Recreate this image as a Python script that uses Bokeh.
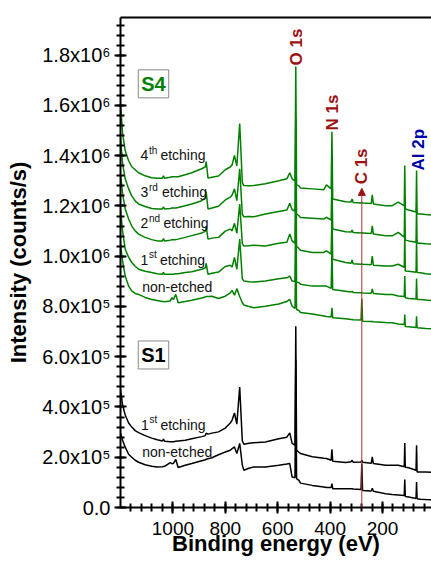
from bokeh.plotting import figure
from bokeh.models import Range1d, FixedTicker, Label, Arrow, NormalHead, LinearAxis
from bokeh.embed import file_html
from bokeh.resources import INLINE

# ---------------- data (binding energy in eV, intensity in 1e5 counts/s) ----------------
energy_eV = [1200, 1192, 1182, 1169, 1157, 1144, 1131, 1106, 1081, 1060, 1040, 1036, 1032, 1010, 1004,
             998, 989, 980, 953, 928, 890, 876, 873, 866, 851, 826, 800, 781, 774, 765, 756, 745, 735,
             729, 710, 692, 647, 596, 565, 554, 545, 534, 531, 528, 519, 513, 468, 424, 414, 396, 393,
             390, 341, 320, 316, 312, 282, 279, 276, 243, 239, 235, 188, 163, 140, 117, 115, 113, 100,
             72, 70, 68, 55, 35, 13]

s4_etch4 = [16.08, 14.88, 14.20, 13.80, 13.56, 13.44, 13.32, 13.20, 13.12, 13.10, 13.10, 13.20, 13.10,
            13.14, 13.16, 13.16, 13.16, 13.16, 13.24, 13.32, 13.48, 13.56, 13.77, 13.11, 13.14, 13.19,
            13.44, 13.55, 13.64, 14.01, 13.59, 15.28, 12.92, 12.81, 12.80, 12.81, 12.88, 13.00, 13.08,
            13.32, 13.08, 13.00, 17.55, 12.84, 12.80, 12.71, 12.68, 12.65, 12.84, 12.68, 14.95, 12.28,
            12.17, 12.16, 12.28, 12.14, 12.12, 12.14, 12.12, 12.10, 12.44, 12.08, 12.01, 12.01, 12.15,
            12.00, 13.61, 11.88, 11.84, 11.76, 13.41, 11.68, 11.68, 11.66, 11.64]
s4_etch3 = [14.68, 13.68, 13.08, 12.68, 12.40, 12.20, 12.08, 11.98, 11.90, 11.88, 11.88, 11.96, 11.88,
            11.90, 11.92, 11.92, 11.92, 11.94, 12.01, 12.08, 12.21, 12.32, 12.57, 11.88, 11.92, 11.99,
            12.24, 12.35, 12.44, 12.68, 12.21, 13.48, 11.66, 11.57, 11.58, 11.57, 11.68, 11.78, 11.84,
            12.11, 11.85, 11.80, 15.48, 11.68, 11.61, 11.54, 11.51, 11.48, 11.55, 11.44, 13.08, 11.08,
            10.97, 10.96, 11.04, 10.94, 10.92, 10.94, 10.92, 10.90, 11.21, 10.88, 10.81, 10.81, 10.95,
            10.76, 12.28, 10.64, 10.61, 10.56, 11.96, 10.52, 10.52, 10.50, 10.48]
s4_etch2 = [13.28, 12.48, 11.88, 11.48, 11.20, 11.01, 10.88, 10.75, 10.66, 10.61, 10.61, 10.70, 10.61,
            10.64, 10.66, 10.66, 10.66, 10.68, 10.75, 10.82, 10.92, 11.00, 11.19, 10.68, 10.72, 10.75,
            11.00, 11.08, 11.01, 11.31, 10.91, 12.08, 10.50, 10.41, 10.42, 10.44, 10.41, 10.52, 10.56,
            10.88, 10.61, 10.52, 13.88, 10.40, 10.31, 10.24, 10.15, 10.15, 10.21, 10.08, 11.68, 9.88,
            9.75, 9.72, 9.85, 9.70, 9.68, 9.70, 9.68, 9.66, 10.01, 9.64, 9.61, 9.61, 9.68,
            9.56, 10.88, 9.41, 9.40, 9.36, 10.68, 9.35, 9.34, 9.30, 9.28]
s4_etch1 = [11.88, 11.00, 10.28, 9.96, 9.75, 9.60, 9.48, 9.40, 9.35, 9.30, 9.28, 9.36, 9.28,
            9.28, 9.28, 9.28, 9.30, 9.30, 9.35, 9.38, 9.48, 9.54, 9.72, 9.28, 9.32, 9.37,
            9.59, 9.64, 9.57, 9.95, 9.48, 10.68, 9.10, 9.01, 8.98, 8.97, 9.01, 9.10, 9.14,
            9.21, 9.01, 9.00, 12.28, 8.96, 8.95, 8.88, 8.81, 8.81, 8.81, 8.72, 10.28, 8.68,
            8.61, 8.58, 8.60, 8.56, 8.55, 8.55, 8.54, 8.53, 8.70, 8.52, 8.48, 8.48, 8.42,
            8.40, 9.21, 8.35, 8.32, 8.30, 9.11, 8.28, 8.28, 8.26, 8.24]
s4_nonetched = [10.48, 9.80, 9.21, 8.81, 8.62, 8.52, 8.48, 8.36, 8.28, 8.24, 8.20, 8.20, 8.19,
                8.22, 8.35, 8.28, 8.48, 8.15, 8.20, 8.25, 8.34, 8.38, 8.40, 8.40, 8.41, 8.32,
                8.41, 8.54, 8.64, 8.45, 8.71, 8.40, 8.15, 8.06, 8.00, 7.95, 8.01, 8.10, 8.20,
                8.28, 8.01, 7.92, 10.28, 7.88, 7.84, 7.76, 7.70, 7.62, 7.60, 7.58, 7.95, 7.55,
                7.51, 7.48, 7.48, 7.47, 7.46, 8.31, 7.41, 7.40, 7.40, 7.39, 7.36, 7.35, 7.30,
                7.28, 7.68, 7.20, 7.19, 7.16, 7.61, 7.15, 7.14, 7.12, 7.11]
s1_etch1 = [4.68, 4.08, 3.68, 3.36, 3.20, 3.06, 2.98, 2.86, 2.76, 2.70, 2.65, 2.72, 2.64,
            2.62, 2.62, 2.62, 2.64, 2.65, 2.68, 2.74, 2.82, 2.86, 2.96, 2.92, 2.96, 3.01,
            3.16, 3.36, 3.48, 3.76, 3.32, 4.79, 2.64, 2.52, 2.56, 2.58, 2.61, 2.74, 2.80,
            2.97, 2.55, 2.48, 7.21, 2.28, 2.20, 2.15, 2.02, 1.96, 1.95, 1.88, 2.32, 1.84,
            1.79, 1.82, 1.88, 1.80, 1.81, 1.88, 1.80, 1.76, 2.01, 1.75, 1.68, 1.68, 1.68,
            1.62, 2.57, 1.60, 1.58, 1.48, 2.48, 1.41, 1.41, 1.41, 1.40]
s1_nonetched = [2.96, 2.68, 2.40, 2.12, 2.00, 1.88, 1.80, 1.70, 1.64, 1.61, 1.62, 1.63, 1.64,
                1.79, 1.74, 1.76, 1.91, 1.59, 1.68, 1.75, 1.86, 1.90, 1.92, 1.94, 1.98, 2.10,
                2.21, 2.28, 2.34, 2.41, 2.15, 2.55, 1.68, 1.48, 1.56, 1.61, 1.61, 1.68, 1.73,
                1.75, 1.21, 1.18, 5.88, 1.15, 1.08, 0.97, 0.88, 0.82, 0.80, 0.80, 0.95, 0.75,
                0.75, 0.75, 0.75, 0.74, 0.72, 1.75, 0.68, 0.66, 0.77, 0.65, 0.55, 0.52, 0.50,
                0.48, 1.11, 0.44, 0.42, 0.36, 1.01, 0.35, 0.33, 0.32, 0.31]

UNIT = 1e5
GREEN = "#008000"
BLACK = "#000000"

x_ticks = [1000, 800, 600, 400, 200]
x_minor = [e for e in range(40, 1200, 40)]
y_ticks = [0, 200000, 400000, 600000, 800000, 1000000, 1200000, 1400000, 1600000, 1800000]
y_tick_labels = ["0.0", "2.0x10\u2075", "4.0x10\u2075", "6.0x10\u2075", "8.0x10\u2075",
                 "1.0x10\u2076", "1.2x10\u2076", "1.4x10\u2076", "1.6x10\u2076", "1.8x10\u2076"]
y_minor = [i * 40000 for i in range(0, 49)]

# peak annotations: (text, energy, bottom of text in counts/s, colour)
peak_labels = [("O 1s", 530, 1.759e6, "#9b1111"),
               ("N 1s", 392, 1.500e6, "#9b1111"),
               ("C 1s", 279, 1.286e6, "#9b1111"),
               ("Al 2p", 64, 1.341e6, "#0000aa")]
c1s_arrow_energy = 279
c1s_arrow_top = 1.27e6

# curve labels: (number, superscript, energy, intensity, gap)
etch_labels = [("4", "th", 1124, 1.401e6, 20),
               ("3", "rd", 1124, 1.255e6, 21.5),
               ("2", "nd", 1124, 1.1315e6, 23),
               ("1", "st", 1124, 0.986e6, 19.5),
               ("1", "st", 1122, 0.330e6, 19.5)]
plain_labels = [("non-etched", 1117, 0.877e6), ("non-etched", 1117, 0.220e6)]

FONT = "Liberation Sans"

p = figure(width=431, height=561, output_backend="svg", toolbar_location=None,
           x_range=Range1d(1200, 13), y_range=Range1d(0, 1.95e6),
           min_border_left=120, min_border_right=0, min_border_top=17, min_border_bottom=54)
p.outline_line_color = None
p.xgrid.visible = False
p.ygrid.visible = False
p.background_fill_color = "white"
p.border_fill_color = "white"

# curves
series = [(s4_etch4, GREEN), (s4_etch3, GREEN), (s4_etch2, GREEN), (s4_etch1, GREEN),
          (s4_nonetched, GREEN), (s1_etch1, BLACK), (s1_nonetched, BLACK)]
for vals, col in series:
    p.line(energy_eV, [v * UNIT for v in vals], line_color=col, line_width=1.5)

# axes
p.xaxis.ticker = FixedTicker(ticks=x_ticks, minor_ticks=x_minor)
p.yaxis.ticker = FixedTicker(ticks=y_ticks, minor_ticks=y_minor)
p.yaxis.major_label_overrides = {t: l for t, l in zip(y_ticks, y_tick_labels)}
p.xaxis.axis_label = "Binding energy (eV)"
p.yaxis.axis_label = "Intensity (counts/s)"
for ax in (p.xaxis[0], p.yaxis[0]):
    ax.axis_line_width = 2
    ax.major_tick_line_width = 2
    ax.minor_tick_line_width = 2
    ax.major_tick_in = 6
    ax.major_tick_out = 6
    ax.minor_tick_in = 4
    ax.minor_tick_out = 4
    ax.major_label_text_font = FONT
    ax.major_label_text_color = "black"
    ax.axis_label_text_font = FONT
    ax.axis_label_text_font_size = "22px"
    ax.axis_label_text_font_style = "bold"
    ax.axis_label_text_color = "black"
p.xaxis.major_label_text_font_size = "19px"
p.yaxis.major_label_text_font_size = "20px"
p.xaxis.major_label_standoff = 8
p.xaxis.axis_label_standoff = -7
p.yaxis.major_label_standoff = 4
p.yaxis.axis_label_standoff = 8

top = LinearAxis(ticker=FixedTicker(ticks=[]), major_label_text_font_size="0px",
                 major_tick_line_color=None, minor_tick_line_color=None, axis_line_width=2,
                 major_label_standoff=0)
p.add_layout(top, "above")

# C 1s arrow
p.add_layout(Arrow(x_start=c1s_arrow_energy, y_start=0, x_end=c1s_arrow_energy, y_end=c1s_arrow_top,
                   line_color="#b03030", line_width=1,
                   end=NormalHead(size=7, fill_color="#9b1111", line_color="#9b1111")))

# peak labels
for txt, e, yb, col in peak_labels:
    p.add_layout(Label(x=e, y=yb, text=txt, angle=90, angle_units="deg", text_align="left",
                       text_baseline="middle", text_font=FONT, text_font_size="17px",
                       text_font_style="bold", text_color=col))

# sample boxes
for txt, e, yv, col in [("S4", 1074, 1.686e6, GREEN), ("S1", 1074, 6.07e5, BLACK)]:
    p.add_layout(Label(x=e, y=yv, text=txt, text_align="center", text_baseline="middle",
                       text_font=FONT, text_font_size="20px", text_font_style="bold",
                       text_color=col, border_line_color="#888888", border_line_width=1,
                       background_fill_color="white", padding=3))

# curve labels
for num, sup, e, yv, gap in etch_labels:
    p.add_layout(Label(x=e, y=yv, text=num, text_baseline="middle", text_font=FONT,
                       text_font_size="14px", text_color="#111111"))
    p.add_layout(Label(x=e, y=yv, x_offset=8.5, y_offset=5, text=sup, text_baseline="middle",
                       text_font=FONT, text_font_size="10px", text_color="#111111"))
    p.add_layout(Label(x=e, y=yv, x_offset=gap, text="etching", text_baseline="middle",
                       text_font=FONT, text_font_size="14px", text_color="#111111"))
for txt, e, yv in plain_labels:
    p.add_layout(Label(x=e, y=yv, text=txt, text_baseline="middle", text_font=FONT,
                       text_font_size="14px", text_color="#111111"))

open("out.html", "w").write(file_html(p, INLINE))
